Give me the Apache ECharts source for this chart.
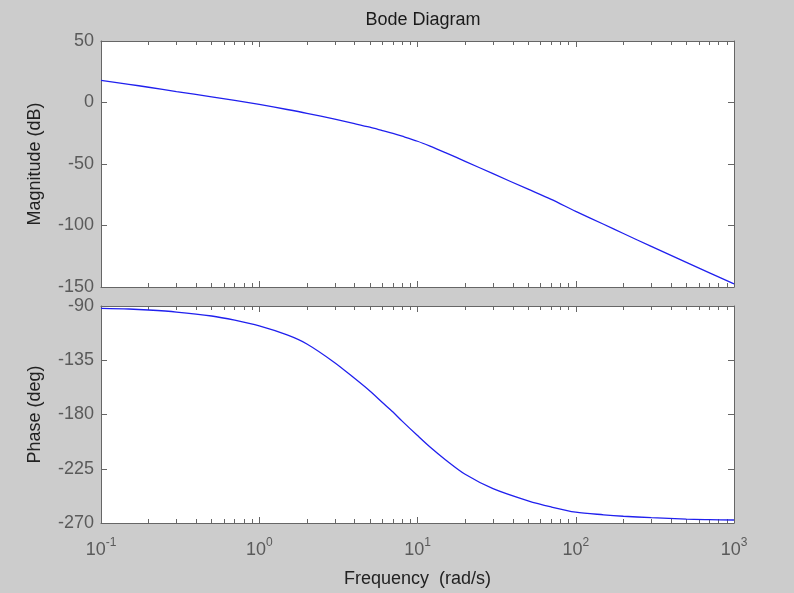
<!DOCTYPE html>
<html>
<head>
<meta charset="utf-8">
<script src="https://cdn.jsdelivr.net/npm/echarts@6/dist/echarts.min.js"></script>
<style>
html,body{margin:0;padding:0;background:#cccccc;}
#c{width:794px;height:593px;}
</style>
</head>
<body>
<div id="c"></div>
<script>
// Data
const freq = [0.1,0.15,0.2,0.3,0.5,0.7,1,1.5,2,3,4,5,6,7,8,10,12,15,20,30,50,70,100,150,200,300,500,700,1000];
const magDb = [18.0,14.8,12.4,8.9,4.6,1.7,-1.6,-5.7,-8.8,-13.6,-17.2,-20.1,-22.8,-25.1,-27.4,-31.5,-35.5,-40.8,-47.8,-57.9,-70.5,-78.8,-88.5,-99,-106.5,-117,-130,-138.5,-147.5];
const phaseDeg = [-92,-92.5,-93.3,-95,-98.3,-101.8,-106.5,-114,-121.5,-137,-150,-160.5,-170,-178,-185.5,-197.5,-207,-217.5,-229.6,-241.5,-251.6,-256.7,-261,-263.2,-264.4,-265.6,-266.8,-267.2,-267.5];
const decades = [-1,0,1,2,3];
const magTicks = [-150,-100,-50,0,50];
const phaseTicks = [-270,-225,-180,-135,-90];
const titleText = 'Bode Diagram';
const magName = 'Magnitude (dB)';
const phaseName = 'Phase (deg)';
const freqName = 'Frequency  (rad/s)';

const FONT = '"Liberation Sans", Arial, Helvetica, sans-serif';
const AX = '#666666';
const LBL = '#5a5a5a';

const minorLog = [];
for (let n = -1; n < 3; n++) for (let k = 2; k <= 9; k++) minorLog.push(n + Math.log10(k));

function majorX(grid, pos, withLabel) {
  return {
    type: 'log', logBase: 10, gridIndex: grid, position: pos, min: 0.1, max: 1000,
    axisLine: {show: true, onZero: false, lineStyle: {color: AX, width: 1}},
    axisTick: {show: true, inside: true, length: 6, lineStyle: {color: AX}},
    splitLine: {show: false}, minorTick: {show: false},
    axisLabel: withLabel ? {
      show: true, margin: 14,
      formatter: v => '{b|10}{s|' + Math.round(Math.log10(v)) + '}',
      rich: {
        b: {fontSize: 18, color: LBL, fontFamily: FONT},
        s: {fontSize: 12, color: LBL, fontFamily: FONT, padding: [0, 0, 15, 0]}
      }
    } : {show: false},
    name: withLabel ? freqName : '', nameLocation: 'middle', nameGap: 47,
    nameTextStyle: {fontSize: 18, color: '#222', fontFamily: FONT}
  };
}
function minorX(grid, pos) {
  return {
    type: 'value', gridIndex: grid, position: pos, min: -1, max: 3,
    axisLine: {show: false, onZero: false}, splitLine: {show: false}, axisLabel: {show: false},
    axisTick: {show: true, inside: true, length: 4, customValues: minorLog, lineStyle: {color: AX}}
  };
}
function yAx(grid, pos, ticks, name) {
  return {
    type: 'value', gridIndex: grid, position: pos,
    min: ticks[0], max: ticks[ticks.length - 1], interval: ticks[1] - ticks[0],
    axisLine: {show: true, onZero: false, lineStyle: {color: AX, width: 1}},
    axisTick: {show: true, inside: true, length: 6, lineStyle: {color: AX}},
    splitLine: {show: false},
    axisLabel: pos === 'left' ? {show: true, margin: 7, fontSize: 18, color: LBL, fontFamily: FONT} : {show: false},
    name: name || '', nameLocation: 'middle', nameGap: 57,
    nameTextStyle: {fontSize: 18, color: '#222', fontFamily: FONT}
  };
}

const chart = echarts.init(document.getElementById('c'), null, {renderer: 'canvas'});
chart.setOption({
  backgroundColor: '#cccccc',
  animation: false,
  title: {text: titleText, left: 418, top: 6, textAlign: 'center',
    textStyle: {fontSize: 18, fontWeight: 'normal', color: '#1a1a1a', fontFamily: FONT}},
  grid: [
    {left: 101, top: 41, width: 633, height: 246, show: true, backgroundColor: '#ffffff', borderWidth: 0},
    {left: 101, top: 306, width: 633, height: 217, show: true, backgroundColor: '#ffffff', borderWidth: 0}
  ],
  xAxis: [
    majorX(0, 'bottom', false), majorX(0, 'top', false), minorX(0, 'bottom'), minorX(0, 'top'),
    majorX(1, 'bottom', true), majorX(1, 'top', false), minorX(1, 'bottom'), minorX(1, 'top')
  ],
  yAxis: [
    yAx(0, 'left', magTicks, magName), yAx(0, 'right', magTicks),
    yAx(1, 'left', phaseTicks, phaseName), yAx(1, 'right', phaseTicks)
  ],
  series: [
    {type: 'line', xAxisIndex: 0, yAxisIndex: 0, data: freq.map((f, i) => [f, magDb[i]]),
      showSymbol: false, smooth: 0.3, lineStyle: {color: '#2020ee', width: 1.3}},
    {type: 'line', xAxisIndex: 4, yAxisIndex: 2, data: freq.map((f, i) => [f, phaseDeg[i]]),
      showSymbol: false, smooth: 0.3, lineStyle: {color: '#2020ee', width: 1.3}}
  ]
});
</script>
</body>
</html>
